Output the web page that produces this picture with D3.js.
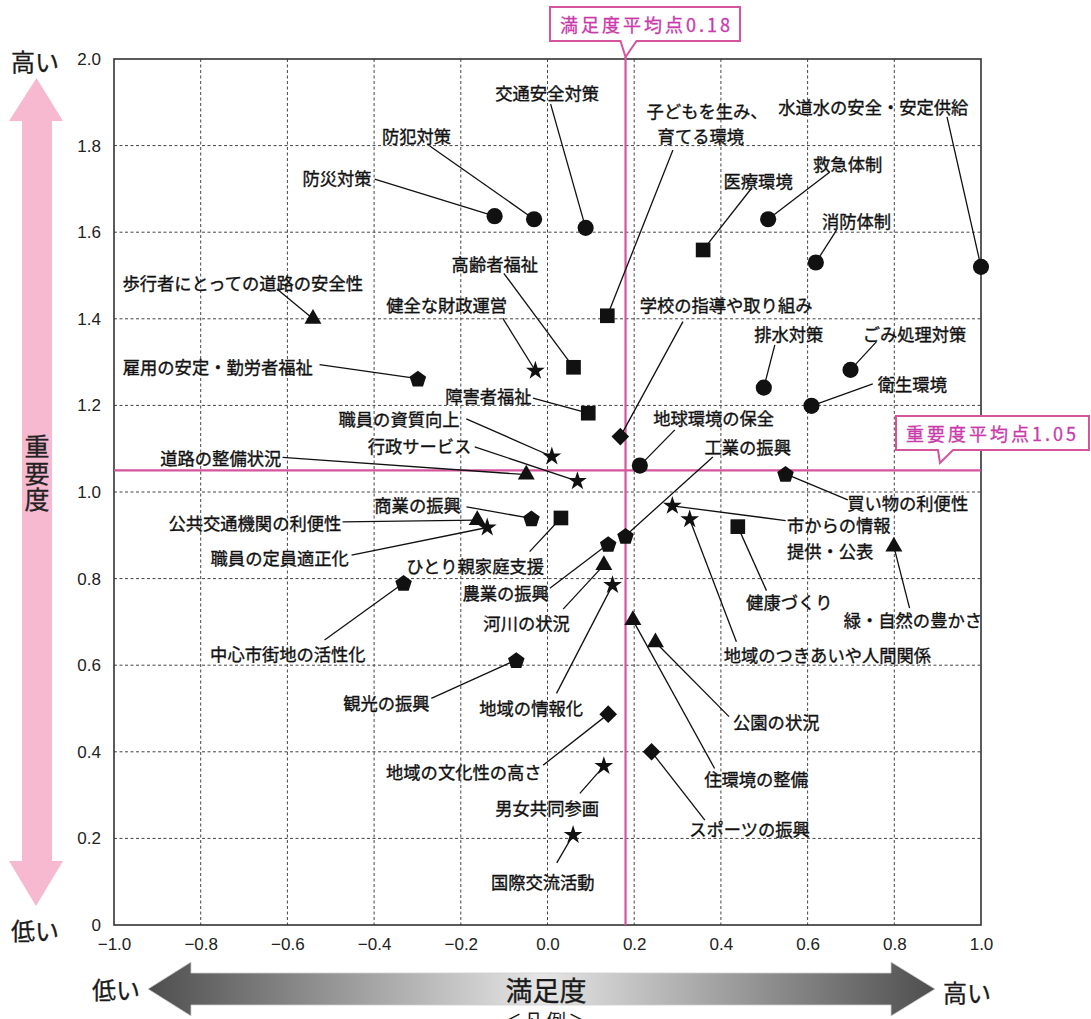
<!DOCTYPE html>
<html><head><meta charset="utf-8">
<script src="https://cdn.jsdelivr.net/npm/d3@7"></script>
<style>
html,body{margin:0;padding:0;background:#fff;}
svg{display:block;}
</style></head>
<body>
<svg id="chart" width="1091" height="1019"></svg>
<script>
// ---------------- DATA ----------------
const items = [
  "防災対策","防犯対策","交通安全対策","子どもを生み、\n育てる環境","水道水の安全・安定供給",
  "医療環境","救急体制","消防体制","歩行者にとっての道路の安全性","高齢者福祉",
  "健全な財政運営","学校の指導や取り組み","排水対策","ごみ処理対策","雇用の安定・勤労者福祉",
  "障害者福祉","衛生環境","職員の資質向上","行政サービス","道路の整備状況",
  "地球環境の保全","工業の振興","商業の振興","買い物の利便性","公共交通機関の利便性",
  "市からの情報\n提供・公表","ひとり親家庭支援","職員の定員適正化","健康づくり","農業の振興",
  "緑・自然の豊かさ","河川の状況","中心市街地の活性化","地域のつきあいや人間関係","観光の振興",
  "地域の情報化","公園の状況","地域の文化性の高さ","住環境の整備","男女共同参画",
  "スポーツの振興","国際交流活動"
];
const satisfaction = [
  -0.122,-0.031,0.088,0.138,1.00,
  0.359,0.509,0.619,-0.541,0.060,
  -0.028,0.168,0.499,0.699,-0.299,
  0.094,0.609,0.010,0.069,-0.049,
  0.213,0.180,-0.037,0.549,-0.162,
  0.288,0.031,-0.139,0.439,0.140,
  0.799,0.130,-0.332,0.328,-0.072,
  0.150,0.249,0.140,0.197,0.130,
  0.240,0.059
];
const importance = [
  1.637,1.630,1.610,1.407,1.520,
  1.559,1.630,1.530,1.400,1.288,
  1.280,1.128,1.241,1.282,1.262,
  1.182,1.199,1.082,1.025,1.040,
  1.061,0.899,0.939,1.042,0.935,
  0.968,0.940,0.918,0.920,0.880,
  0.874,0.831,0.790,0.937,0.612,
  0.785,0.653,0.487,0.704,0.367,
  0.400,0.208
];
const shapes = [
  "circle","circle","circle","square","circle",
  "square","circle","circle","triangle","square",
  "star","diamond","circle","circle","pentagon",
  "square","circle","star","star","triangle",
  "circle","pentagon","pentagon","pentagon","triangle",
  "star","square","star","square","pentagon",
  "triangle","triangle","pentagon","star","pentagon",
  "star","triangle","diamond","triangle","star",
  "diamond","star"
];
const xTicks = [-1.0,-0.8,-0.6,-0.4,-0.2,0.0,0.2,0.4,0.6,0.8,1.0];
const yTicks = [0,0.2,0.4,0.6,0.8,1.0,1.2,1.4,1.6,1.8,2.0];
const meanSatisfaction = 0.18;
const meanImportance = 1.05;
const meanSatLabel = "満足度平均点0.18";
const meanImpLabel = "重要度平均点1.05";

// ---------------- LAYOUT (label offsets from marker, px) ----------------
const labelLayout = [
  {a:"end",t:[[-123,-39]],l:[-120,-37]},
  {a:"middle",t:[[-117.6,-84.3]],l:[-104.3,-73.3]},
  {a:"middle",t:[[-38.5,-136]],l:[-35,-123.7]},
  {a:"start",t:[[39.3,-206],[50.3,-180.5]],l:[65.6,-165.7]},
  {a:"middle",t:[[-107.7,-160.7]],l:[-34,-150]},
  {a:"middle",t:[[55,-70]],l:[48.4,-61.7]},
  {a:"middle",t:[[79.5,-56.7]],l:[61.7,-47.3]},
  {a:"middle",t:[[40.7,-42.3]],l:[20.7,-32.3]},
  {a:"middle",t:[[-70.3,-37]],l:[-36.3,-30]},
  {a:"middle",t:[[-78.7,-104]],l:[-69.7,-94]},
  {a:"middle",t:[[-88.7,-66.7]],l:[-32.7,-52.7]},
  {a:"start",t:[[19.3,-132.7]],l:[62.6,-115]},
  {a:"middle",t:[[25,-55]],l:[11,-42.7]},
  {a:"middle",t:[[64,-37.3]],l:[26,-28.3]},
  {a:"end",t:[[-105,-12.3]],l:[-98.3,-14]},
  {a:"end",t:[[-56.6,-18.3]],l:[-55.3,-15]},
  {a:"start",t:[[66.3,-23.3]],l:[61.3,-22]},
  {a:"end",t:[[-92.3,-38.4]],l:[-85.6,-37.7]},
  {a:"end",t:[[-106,-36]],l:[-102.7,-34.3]},
  {a:"end",t:[[-245,-17.6]],l:[-243.7,-17.3]},
  {a:"start",t:[[13.3,-48.4]],l:[35,-35.7]},
  {a:"start",t:[[79,-90]],l:[87.3,-78.7]},
  {a:"end",t:[[-70.7,-14.3]],l:[-65,-11.6]},
  {a:"start",t:[[61.7,28]],l:[62.3,26]},
  {a:"end",t:[[-136,1.7]],l:[-134.7,1.7]},
  {a:"start",t:[[114.6,18.5],[114.6,44]],l:[113.3,14.7]},
  {a:"middle",t:[[-85.8,47]],l:[-31.3,33.7]},
  {a:"end",t:[[-138.4,29.4]],l:[-135.7,27.7]},
  {a:"middle",t:[[51.5,74]],l:[28.7,64]},
  {a:"end",t:[[-59.3,47.7]],l:[-58.3,44.3]},
  {a:"middle",t:[[19,72.6]],l:[15.7,61.6]},
  {a:"middle",t:[[-77.3,56.7]],l:[-40.7,44]},
  {a:"middle",t:[[-115.7,70.3]],l:[-79,57]},
  {a:"start",t:[[34,134.7]],l:[46.7,122.4]},
  {a:"end",t:[[-86.7,41.7]],l:[-85,38.3]},
  {a:"middle",t:[[-81.4,121.7]],l:[-56,108.3]},
  {a:"start",t:[[77.6,78.4]],l:[73.6,74.4]},
  {a:"end",t:[[-66.6,56.7]],l:[-65,51]},
  {a:"end",t:[[175,158.3]],l:[81.7,148.3]},
  {a:"middle",t:[[-56.7,41.3]],l:[-24,27.3]},
  {a:"end",t:[[158.3,76.6]],l:[53.3,68.3]},
  {a:"middle",t:[[-30.3,46]],l:[-16.3,28]}
];

// ---------------- CHART ----------------
const svg = d3.select("#chart");
const plot = {left:114, right:981, top:59, bottom:925};
const x = d3.scaleLinear().domain([-1,1]).range([plot.left, plot.right]);
const y = d3.scaleLinear().domain([0,2]).range([plot.bottom, plot.top]);

const JP = "'Noto Sans CJK JP','Noto Sans',sans-serif";
const NUM = "'Liberation Sans',Arial,sans-serif";
const PINK = "#d4559c";
const MAGENTA = "#c93aaa";

const defs = svg.append("defs");
const grad = defs.append("linearGradient").attr("id","gArrow")
  .attr("gradientUnits","userSpaceOnUse").attr("x1",148).attr("x2",935).attr("y1",0).attr("y2",0);
grad.append("stop").attr("offset",0).attr("stop-color","#4e4e4e");
grad.append("stop").attr("offset",0.5).attr("stop-color","#e6e6e6");
grad.append("stop").attr("offset",1).attr("stop-color","#4e4e4e");

// grid
const g = svg.append("g");
g.selectAll("line.gx").data(xTicks.filter(d=>d>-1 && d<1)).join("line")
  .attr("x1",d=>x(d)).attr("x2",d=>x(d)).attr("y1",plot.top).attr("y2",plot.bottom)
  .attr("stroke","#444").attr("stroke-width",1).attr("stroke-dasharray","3,2.5");
g.selectAll("line.gy").data(yTicks.filter(d=>d>0 && d<2)).join("line")
  .attr("y1",d=>y(d)).attr("y2",d=>y(d)).attr("x1",plot.left).attr("x2",plot.right)
  .attr("stroke","#444").attr("stroke-width",1).attr("stroke-dasharray","3,2.5");

// axes via d3 axis (ticks hidden, labels only)
const fmtX = d => d===0 ? "0.0" : (d<0 ? "\u2212"+Math.abs(d).toFixed(1) : d.toFixed(1));
const fmtY = d => d===0 ? "0" : d.toFixed(1);
const xAxis = svg.append("g").attr("transform",`translate(0,${plot.bottom})`)
  .call(d3.axisBottom(x).tickValues(xTicks).tickFormat(fmtX).tickSize(0).tickPadding(13));
xAxis.select(".domain").remove();
xAxis.selectAll("text").attr("font-family",NUM).attr("font-size",17).attr("fill","#222");
const yAxis = svg.append("g").attr("transform",`translate(${plot.left},0)`)
  .call(d3.axisLeft(y).tickValues(yTicks).tickFormat(fmtY).tickSize(0).tickPadding(13));
yAxis.select(".domain").remove();
yAxis.selectAll("text").attr("font-family",NUM).attr("font-size",17).attr("fill","#222");

// frame
svg.append("rect").attr("x",plot.left).attr("y",plot.top)
  .attr("width",plot.right-plot.left).attr("height",plot.bottom-plot.top)
  .attr("fill","none").attr("stroke","#333").attr("stroke-width",1.6);

// mean lines
svg.append("line").attr("x1",x(meanSatisfaction)).attr("x2",x(meanSatisfaction))
  .attr("y1",plot.top-2).attr("y2",plot.bottom).attr("stroke",PINK).attr("stroke-width",2.2);
svg.append("line").attr("x1",plot.left).attr("x2",plot.right)
  .attr("y1",y(meanImportance)).attr("y2",y(meanImportance)).attr("stroke",PINK).attr("stroke-width",2.2);

// callouts
function callout(bx,by,bw,bh,ptr,label,tx,ty){
  const gg = svg.append("g");
  const [p1,tip,p2] = ptr;
  const path = `M${bx},${by} H${bx+bw} V${by+bh} H${p2[0]} L${tip[0]},${tip[1]} L${p1[0]},${by+bh} H${bx} Z`;
  gg.append("path").attr("d",path).attr("fill","#fff").attr("stroke",PINK).attr("stroke-width",2);
  gg.append("text").attr("x",tx).attr("y",ty).attr("dominant-baseline","central")
    .attr("font-family",JP).attr("font-size",18).attr("letter-spacing",3)
    .attr("fill",MAGENTA).attr("stroke",MAGENTA).attr("stroke-width",0.3).text(label);
}
const mx = x(meanSatisfaction);
callout(550,7,190,34,[[mx-5,0],[mx,57],[mx+11,0]],meanSatLabel,560,24);
callout(896,416,193,34,[[938,0],[940,463],[953,0]],meanImpLabel,906,433);

// leader lines
const pts = items.map((n,i)=>({name:n, sx:x(satisfaction[i]), sy:y(importance[i]), shape:shapes[i], L:labelLayout[i]}));
svg.append("g").selectAll("line").data(pts).join("line")
  .attr("x1",d=>d.sx+d.L.l[0]).attr("y1",d=>d.sy+d.L.l[1])
  .attr("x2",d=>d.sx).attr("y2",d=>d.sy)
  .attr("stroke","#111").attr("stroke-width",1.3);

// symbols
const pentagon = {draw(ctx,size){
  const r = Math.sqrt(size/(2.5*Math.sin(2*Math.PI/5)));
  for(let i=0;i<5;i++){const a=-Math.PI/2+i*2*Math.PI/5;const px=r*Math.cos(a),py=r*Math.sin(a)+r*0.1;i?ctx.lineTo(px,py):ctx.moveTo(px,py);}
  ctx.closePath();}};
const diamond = {draw(ctx,size){
  const h = Math.sqrt(size/2);
  ctx.moveTo(0,-h);ctx.lineTo(h,0);ctx.lineTo(0,h);ctx.lineTo(-h,0);ctx.closePath();}};
const symType = {circle:[d3.symbolCircle,205], square:[d3.symbolSquare,215], triangle:[d3.symbolTriangle,125],
  star:[d3.symbolStar,110], pentagon:[pentagon,180], diamond:[diamond,155]};
svg.append("g").selectAll("path").data(pts).join("path")
  .attr("transform",d=>`translate(${d.sx},${d.sy})`)
  .attr("d",d=>d3.symbol().type(symType[d.shape][0]).size(symType[d.shape][1])())
  .attr("fill","#111");

// labels (one text element per label; extra lines as tspans)
const lg = svg.append("g").attr("font-family",JP).attr("font-size",17.3).attr("fill","#111")
  .attr("stroke","#111").attr("stroke-width",0.35);
pts.forEach(d=>{
  const lines = d.name.split("\n");
  const t = lg.append("text").attr("text-anchor",d.L.a).attr("dominant-baseline","central");
  lines.forEach((ln,j)=>{
    const off = d.L.t[j];
    t.append("tspan").attr("x",d.sx+off[0]).attr("y",d.sy+off[1])
      .attr("dominant-baseline","central").text(ln);
  });
});

// vertical pink arrow (importance)
const va = svg.append("g");
va.append("path").attr("d","M36.5,78 L63,121 L52,121 L52,861 L63,861 L36,906 L9,861 L22,861 L22,121 L9,121 Z")
  .attr("fill","#f6b9d0");
va.append("text").attr("x",37).attr("y",474).attr("text-anchor","middle")
  .style("writing-mode","vertical-rl").attr("letter-spacing",1.5)
  .attr("font-family",JP).attr("font-size",25).attr("fill","#222").attr("stroke","#222").attr("stroke-width",0.3)
  .text("重要度");
const bigText = (tx,ty,anchor,s,fs)=>svg.append("text").attr("x",tx).attr("y",ty).attr("text-anchor",anchor)
  .attr("dominant-baseline","central").attr("font-family",JP).attr("font-size",fs)
  .attr("fill","#1a1a1a").attr("stroke","#1a1a1a").attr("stroke-width",0.3).text(s);
bigText(11,60,"start","高い",24);
bigText(11,929,"start","低い",24);

// horizontal gradient arrow (satisfaction)
svg.append("path").attr("d","M148,989 L191,962 L191,973 L891,973 L891,962 L935,989 L891,1016 L891,1005 L191,1005 L191,1016 Z")
  .attr("fill","url(#gArrow)").attr("stroke","#cfcfcf").attr("stroke-width",0.8);
bigText(546,989,"middle","満足度",27);
bigText(140,988,"end","低い",24);
bigText(943,991,"start","高い",24);
svg.append("text").attr("x",546).attr("y",1029).attr("text-anchor","middle")
  .attr("font-family",JP).attr("font-size",20).attr("letter-spacing",2).attr("fill","#1a1a1a").text("＜凡例＞");
</script>
</body></html>
